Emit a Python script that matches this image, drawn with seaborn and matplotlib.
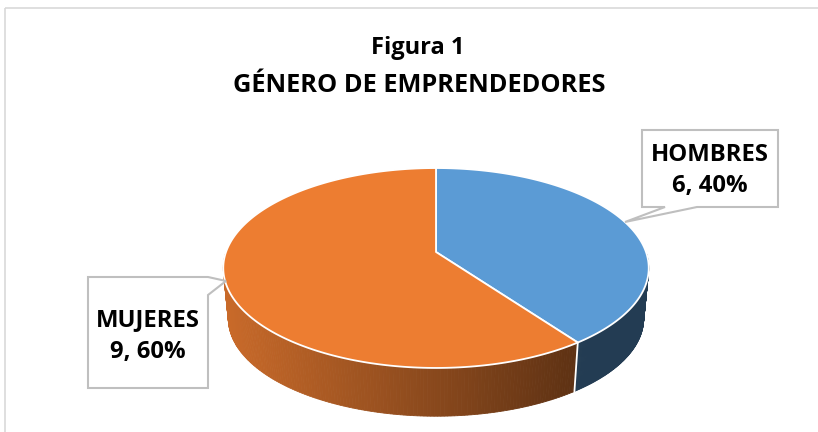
import numpy as np
import matplotlib
matplotlib.use("Agg")
import matplotlib.pyplot as plt
import seaborn as sns
from matplotlib.patches import Polygon, Rectangle

# ---- data ----
categories = ["HOMBRES", "MUJERES"]
values = [6, 9]
title_lines = ["Figura 1", "GÉNERO DE EMPRENDEDORES"]

sns.set_theme(style="white")
plt.rcParams['font.family'] = ['Open Sans', 'DejaVu Sans']
top_colors = sns.color_palette(["#5B9BD5", "#ED7D31"])

fig = plt.figure(figsize=(8.18, 4.32), dpi=100)
ax = fig.add_axes([0, 0, 1, 1])
ax.set_xlim(0, 818)
ax.set_ylim(432, 0)
ax.axis('off')

# outer chart border
ax.add_patch(Rectangle((5, 8), 830, 440, fill=False, edgecolor="#D9D9D9", lw=1.2))

# perspective-projected disc
cx, cy0, A, B, persp, depth = 436, 252, 210, 97.4, 0.16, 51
Ab, Bb = 205, 95.1

total = sum(values)
fr = np.array(values, dtype=float) / total
starts = 90 - 360 * np.concatenate([[0], np.cumsum(fr)[:-1]])
ends = starts - 360 * fr


def pt(t, a=A, b=B, dy=0.0):
    t = np.radians(t)
    u, v = np.cos(t), np.sin(t)
    d = 1 + persp * v
    return cx + a * u / d, cy0 - b * v / d + dy


def shade(color, x):
    f = np.clip(0.85 - 0.45 * (x - 223) / (575 - 223), 0.39, 0.85)
    return tuple(c * f for c in color)


# ---- side (front half) ----
for s, e, col in zip(starts, ends, top_colors):
    lo, hi = e, s
    for k in (-1, 0, 1):
        a = max(lo, -180 + 360 * k)
        b = min(hi, 0 + 360 * k)
        if b <= a:
            continue
        ts = np.linspace(a, b, 160)
        for t0, t1 in zip(ts[:-1], ts[1:]):
            x0, y0 = pt(t0)
            x1, y1 = pt(t1)
            bx0, by0 = pt(t0, Ab, Bb, depth)
            bx1, by1 = pt(t1, Ab, Bb, depth)
            c = shade(col, (x0 + x1) / 2)
            ax.add_patch(Polygon([(x0, y0), (x1, y1), (bx1, by1), (bx0, by0)],
                                 closed=True, facecolor=c, edgecolor=c, lw=0.6, zorder=2))

# divider on the side
for s in starts:
    tm = ((s + 180) % 360) - 180
    if -180 < tm < 0:
        x0, y0 = pt(tm)
        x1, y1 = pt(tm, Ab, Bb, depth)
        ax.plot([x0, x1], [y0, y1], color="white", lw=1.3, zorder=3)

# ---- top face ----
cxp, cyp = cx, cy0
for s, e, col in zip(starts, ends, top_colors):
    ts = np.linspace(s, e, 200)
    xs, ys = pt(ts)
    verts = [(cxp, cyp)] + list(zip(xs, ys))
    ax.add_patch(Polygon(verts, closed=True, facecolor=col, edgecolor="white",
                         lw=1.3, joinstyle="round", zorder=4))

# ---- title ----
ax.text(418, 48, title_lines[0], ha="center", va="center", fontsize=17,
        fontweight="bold", color="black", zorder=6)
ax.text(419, 86, title_lines[1], ha="center", va="center", fontsize=18.3,
        fontweight="bold", color="black", zorder=6)

# ---- callouts ----
edge = "#BFBFBF"
ax.add_patch(Polygon([(642, 130), (778, 130), (778, 207), (697, 207), (625, 222),
                      (665, 207), (642, 207)], closed=True, facecolor="white",
                     edgecolor=edge, lw=1.5, zorder=5))
ax.add_patch(Polygon([(88, 277), (208, 277), (226, 281), (208, 295), (208, 388),
                      (88, 388)], closed=True, facecolor="white",
                     edgecolor=edge, lw=1.5, zorder=5))

pos = {"HOMBRES": (710, 155, 186), "MUJERES": (148, 320, 352)}
for cat, v, f in zip(categories, values, fr):
    x, y1, y2 = pos[cat]
    ax.text(x, y1, cat, ha="center", va="center", fontsize=17.2, fontweight="bold",
            color="black", zorder=6)
    ax.text(x, y2, f"{v}, {f*100:.0f}%", ha="center", va="center", fontsize=17.2,
            fontweight="bold", color="black", zorder=6)

fig.savefig("out.png", dpi=100)
